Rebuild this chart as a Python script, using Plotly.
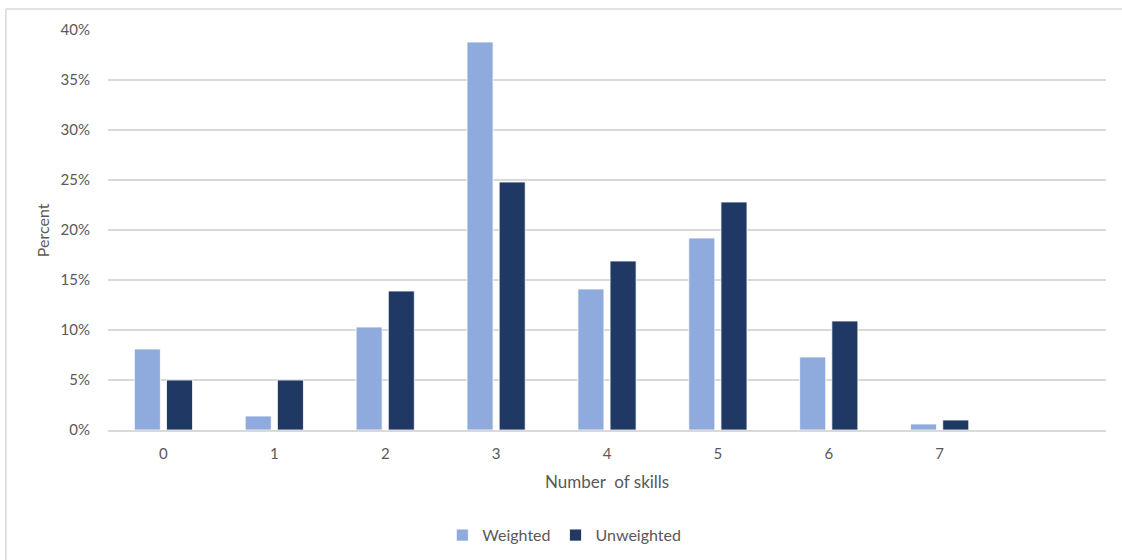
import plotly.graph_objects as go

# Share of respondents by number of skills held
skills = [0, 1, 2, 3, 4, 5, 6, 7]
tick_labels = ["0", "1", "2", "3", "4", "5", "6", "7"]
weighted = [8.1, 1.4, 10.3, 38.8, 14.1, 19.2, 7.3, 0.6]
unweighted = [5.0, 5.0, 13.9, 24.8, 16.9, 22.8, 10.9, 1.0]

FONT = "Lato, 'Open Sans', sans-serif"
TEXT = "#595959"
GRID = "#D9D9D9"

fig = go.Figure()
fig.add_trace(go.Bar(
    x=skills, y=weighted, name="Weighted",
    marker=dict(color="#8FAADC", line=dict(color="#FFFFFF", width=0.8)),
))
fig.add_trace(go.Bar(
    x=skills, y=unweighted, name="Unweighted",
    marker=dict(color="#203864", line=dict(color="#FFFFFF", width=0.8)),
))

fig.update_layout(
    width=1122, height=560,
    margin=dict(l=108, r=16, t=30, b=130, autoexpand=False),
    paper_bgcolor="white", plot_bgcolor="white",
    barmode="group", bargap=0.42, bargroupgap=0.19,
    font=dict(family=FONT, size=15, color=TEXT),
    showlegend=True,
    legend=dict(
        orientation="h", x=0.335, xanchor="left",
        y=-0.263, yanchor="middle",
        font=dict(family=FONT, size=16, color=TEXT),
        itemwidth=30, tracegroupgap=0,
    ),
    xaxis=dict(
        range=[-0.5, 8.5], tickmode="array",
        tickvals=skills, ticktext=tick_labels,
        showgrid=False, showline=True, linecolor=GRID, linewidth=1.5,
        ticks="", zeroline=False, fixedrange=True, automargin=False,
        ticklabelstandoff=9,
        tickfont=dict(family=FONT, size=15, color=TEXT),
    ),
    yaxis=dict(
        range=[0, 40], dtick=5, ticksuffix="%",
        showgrid=True, gridcolor=GRID, gridwidth=1.5,
        zeroline=False, showline=False, ticks="",
        ticklabelstandoff=17, fixedrange=True, automargin=False,
        tickfont=dict(family=FONT, size=15, color=TEXT),
    ),
    annotations=[
        dict(text="Number  of skills", xref="paper", yref="paper",
             x=0.5, y=-0.13, xanchor="center", yanchor="middle",
             showarrow=False, font=dict(family=FONT, size=17, color=TEXT)),
        dict(text="Percent", xref="paper", yref="paper",
             x=-0.066, y=0.5, xanchor="center", yanchor="middle",
             textangle=-90, showarrow=False,
             font=dict(family=FONT, size=16, color=TEXT)),
    ],
    shapes=[
        # chart-area frame (top and left edges)
        dict(type="line", xref="paper", yref="paper",
             x0=-0.1023, x1=1.2, y0=1.0525, y1=1.0525,
             line=dict(color=GRID, width=1.5)),
        dict(type="line", xref="paper", yref="paper",
             x0=-0.1023, x1=-0.1023, y0=1.0525, y1=-0.5,
             line=dict(color=GRID, width=1.5)),
    ],
)

fig.write_html("out.html")
